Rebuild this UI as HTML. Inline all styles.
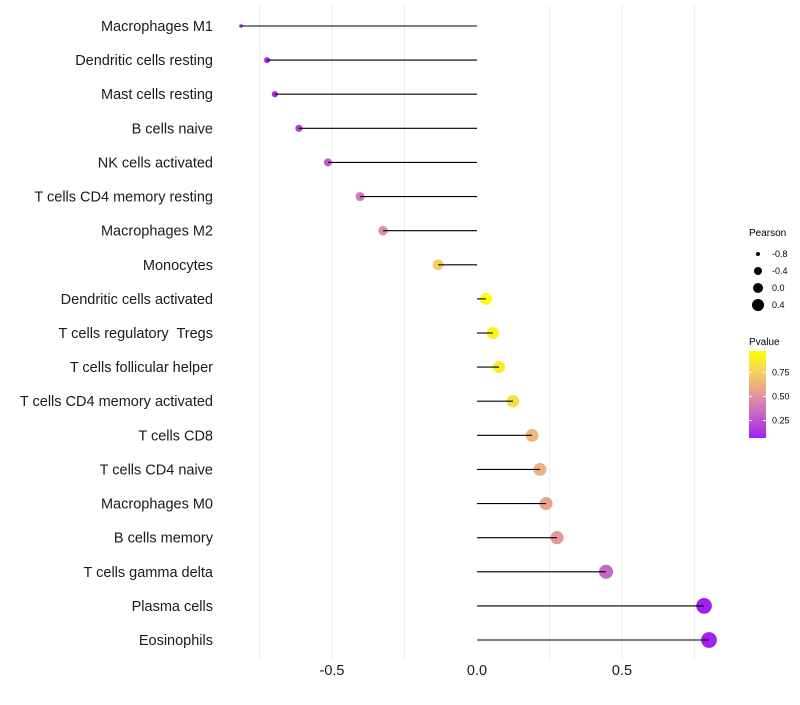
<!DOCTYPE html>
<html><head><meta charset="utf-8"><style>
body{margin:0;background:#fff;font-family:"Liberation Sans",sans-serif;}
text{white-space:pre;}
</style></head><body>
<svg id="chart" width="800" height="700" xmlns="http://www.w3.org/2000/svg">
<defs><linearGradient id="pg" x1="0" y1="1" x2="0" y2="0">
<stop offset="0" stop-color="#a020f0"/><stop offset="0.32" stop-color="#cc70c0"/><stop offset="0.54" stop-color="#e8a090"/><stop offset="0.76" stop-color="#f6d060"/><stop offset="1" stop-color="#ffff00"/>
</linearGradient></defs>
<g id="grid"></g>
<g id="marks"></g>
<g id="ylabels"></g>
<g id="xlabels"></g>
<g font-size="9" fill="#000">
<text x="749" y="236" font-size="10">Pearson</text>
<g id="sizeleg"></g>
</g>
<g font-size="9">
<text x="749" y="345" font-size="10">Pvalue</text>
<rect x="749" y="351" width="17" height="87" fill="url(#pg)"/>
<g id="colleg"></g>
</g>
</svg>
<script>
const categories=["Macrophages M1","Dendritic cells resting","Mast cells resting","B cells naive","NK cells activated","T cells CD4 memory resting","Macrophages M2","Monocytes","Dendritic cells activated","T cells regulatory  Tregs","T cells follicular helper","T cells CD4 memory activated","T cells CD8","T cells CD4 naive","Macrophages M0","B cells memory","T cells gamma delta","Plasma cells","Eosinophils"];
const pearson=[-0.814,-0.724,-0.697,-0.614,-0.514,-0.403,-0.324,-0.134,0.031,0.055,0.076,0.124,0.19,0.217,0.238,0.276,0.445,0.783,0.8];
const pvalue=[0.06,0.09,0.11,0.18,0.28,0.38,0.48,0.75,0.95,0.92,0.88,0.82,0.65,0.62,0.57,0.52,0.32,0.05,0.03];
const xTicks=[-0.5,0,0.5];
const xTickLabels=["-0.5","0.0","0.5"];
const sizeLegVals=[-0.8,-0.4,0.0,0.4];
const colLegVals=[0.25,0.5,0.75];
const colLegLabels=["0.25","0.50","0.75"];

const NS="http://www.w3.org/2000/svg";
const X=v=>477+v*290;
const Y=i=>26+i*(614/18);
const R=v=>v<-0.78?1.8:Math.sqrt(9+35*(v+0.72));
const stops=[[0.07,[160,32,240]],[0.35,[204,112,192]],[0.55,[232,160,144]],[0.76,[246,208,96]],[0.97,[255,255,0]]];
function col(p){if(p<=stops[0][0])return`rgb(${stops[0][1]})`;for(let i=1;i<stops.length;i++){if(p<=stops[i][0]){const a=stops[i-1],b=stops[i];const t=(p-a[0])/(b[0]-a[0]);return`rgb(${a[1].map((c,k)=>Math.round(c+(b[1][k]-c)*t)).join(',')})`;}}return`rgb(${stops[stops.length-1][1]})`;}
const CY=p=>438-(p-0.07)/0.9*87;
function mk(tag,attrs,parent){const e=document.createElementNS(NS,tag);for(const k in attrs)e.setAttribute(k,attrs[k]);document.getElementById(parent).appendChild(e);return e;}
[-0.75,-0.5,-0.25,0.25,0.5,0.75].forEach(v=>{const l=mk('line',{x1:X(v),x2:X(v),y1:5,y2:660,stroke:'#eeeeee','stroke-width':1},'grid');

});
categories.forEach((c,i)=>{
 const v=pearson[i];
 const d=mk('circle',{cx:X(v),cy:Y(i),r:R(v),fill:col(pvalue[i])},'marks');
 
 
 const l=mk('line',{x1:X(0),x2:X(v),y1:Y(i),y2:Y(i),stroke:'#000','stroke-width':1.1},'marks');
 
 
 const t=mk('text',{x:213,y:Y(i)+5,'text-anchor':'end','font-size':14.5,fill:'#1a1a1a'},'ylabels');
 t.textContent=c;
 
 
});
xTicks.forEach((v,i)=>{const t=mk('text',{x:X(v),y:675,'text-anchor':'middle','font-size':14.5,fill:'#1a1a1a'},'xlabels');t.textContent=xTickLabels[i];

});
sizeLegVals.forEach((v,i)=>{const y=254+i*17;
 const c=mk('circle',{cx:758,cy:y,r:[2,4,5,6][i],fill:'#000'},'sizeleg');
 
 
 const t=mk('text',{x:772,y:y+3,'font-size':9},'sizeleg');t.textContent=v.toFixed(1);
 
 });
colLegVals.forEach((v,i)=>{const y=CY(v);
 mk('line',{x1:749,x2:752,y1:y,y2:y,stroke:'#fff'},'colleg');
 mk('line',{x1:763,x2:766,y1:y,y2:y,stroke:'#fff'},'colleg');
 const t=mk('text',{x:772,y:y+3,'font-size':9},'colleg');t.textContent=colLegLabels[i];
 
 });
</script>
</body></html>
